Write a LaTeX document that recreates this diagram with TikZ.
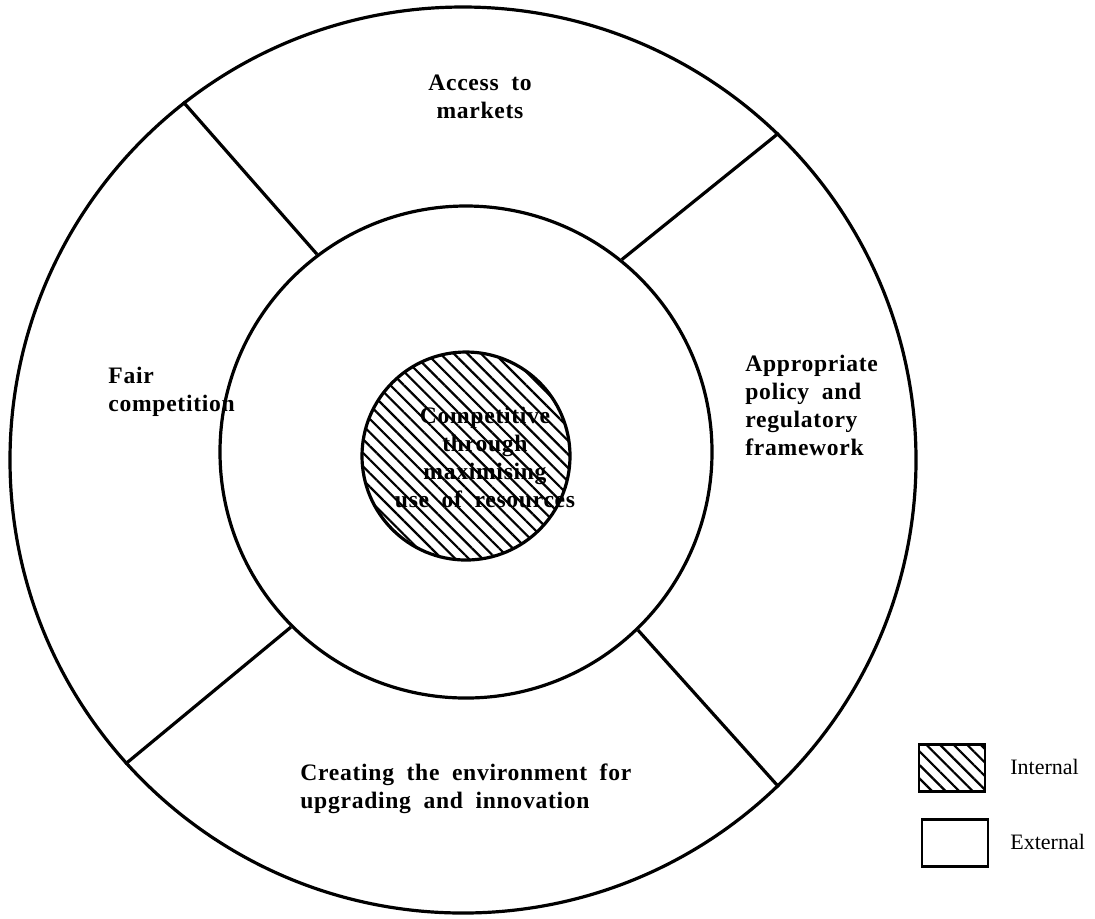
\documentclass[tikz,border=0pt]{standalone}
\usepackage{fontspec}
\setmainfont{Liberation Serif}
\newfontfamily\lblfont{Liberation Serif}[WordSpace=1.9, LetterSpace=3]
\usetikzlibrary{patterns.meta}

\tikzset{
  ring/.style={circle, draw, line width=1.6pt, inner sep=0pt},
  divider/.style={line width=1.6pt},
  lbl/.style={font=\lblfont\bfseries\fontsize{11.8}{14}\selectfont, inner sep=0pt},
  hatch/.style={pattern={Lines[angle=-45, distance=4.8pt, line width=1.1pt]}},
  keybox/.style={draw, line width=1.4pt, minimum width=33pt, minimum height=23.5pt, inner sep=0pt},
  keytext/.style={font=\fontsize{11}{13}\selectfont, anchor=west, inner sep=0pt}
}

\begin{document}
\begin{tikzpicture}[x=0.5pt, y=-0.5pt]
        \useasboundingbox (0,0) rectangle (1095,918);

        % Rings
        \node[ring, minimum size=453pt] (outer) at (463,460) {};
        \node[ring, minimum size=246pt] (middle) at (466,452) {};
        \node[ring, hatch, minimum size=104pt] (core) at (466,456) {};

        % Dividers
        \draw[divider] (middle.127) -- (outer.128);
        \draw[divider] (middle.51) -- (outer.46);
        \draw[divider] (middle.225) -- (outer.222);
        \draw[divider] (middle.314) -- (outer.314);

        % Labels
        \node[lbl, align=center] (markets) at (480,97) {Access to\\markets};
        \node[lbl, align=left, anchor=west] (fair) at (108,392) {Fair\\competition};
        \node[lbl, align=left, anchor=west] (policy) at (745,405) {Appropriate\\policy and\\regulatory\\framework};
        \node[lbl, align=left, anchor=west] (upgrade) at (300,789) {Creating the environment for\\upgrading and innovation};
        \node[lbl, align=center] (compete) at (485,457) {Competitive\\through\\maximising\\use of resources};

        % Legend
        \node[keybox, hatch] (intbox) at (952,768) {};
        \node[keytext] (inttext) at (1010,767) {Internal};
        \node[keybox] (extbox) at (955,843) {};
        \node[keytext] (exttext) at (1010,842) {External};
\end{tikzpicture}
\end{document}
